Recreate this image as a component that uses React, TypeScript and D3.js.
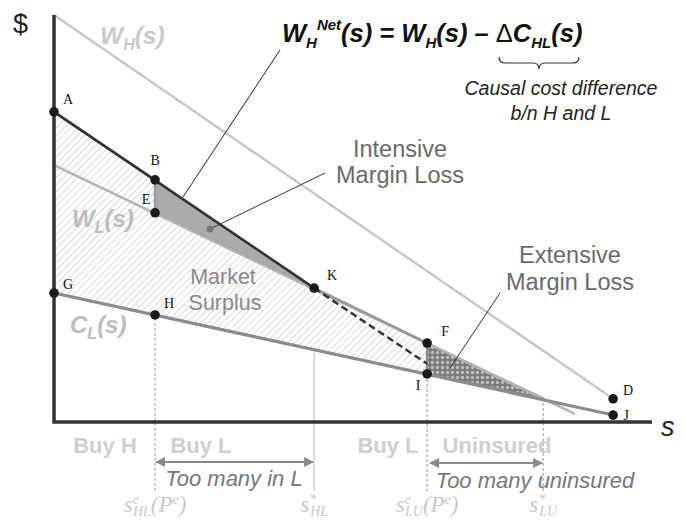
import React from "react";
import * as d3 from "d3";

// ---- data (s on horizontal axis 0..100, $ on vertical axis 0..100) ----
const pointLabels = ["A", "B", "E", "K", "G", "H", "F", "I", "D", "J"];
const pointS = [0, 16.9, 16.9, 43.5, 0, 16.9, 62.4, 62.4, 93.5, 93.5];
const pointV = [76.2, 59.5, 51.4, 32.9, 31.7, 26.3, 19.4, 11.8, 5.7, 1.7];

const wHLine: [number, number][] = [[0, 100], [93.5, 5.7]];
const wHNetLine: [number, number][] = [[0, 76.2], [43.5, 32.9]];
const wHNetDashed: [number, number][] = [[43.5, 32.9], [62.4, 14.3]];
const wLLine: [number, number][] = [[0, 63.1], [87.1, 2.0]];
const cLLine: [number, number][] = [[0, 31.7], [93.5, 1.7]];

const surplusRegion: [number, number][] = [
  [0, 76.2], [16.9, 59.5], [16.9, 51.4], [43.5, 32.9], [62.4, 19.4], [62.4, 11.8], [16.9, 26.3], [0, 31.7],
];
const intensiveRegion: [number, number][] = [[16.9, 59.5], [43.5, 32.9], [16.9, 51.4]];
const extensiveRegion: [number, number][] = [[62.4, 19.4], [81.8, 5.9], [62.4, 11.8]];

const guideS = [16.9, 43.5, 62.4, 81.8];
const guideV = [51.4, 32.9, 11.8, 5.9];
const guideDashed = [true, false, true, true];

const regionLabelsTop = ["Buy H", "Buy L", "Buy L", "Uninsured"];

export default function App() {
  const W = 686, H = 523;
  const x = d3.scaleLinear().domain([0, 100]).range([54, 652]);
  const y = d3.scaleLinear().domain([0, 100]).range([422, 15]);
  const line = d3.line<[number, number]>().x(d => x(d[0])).y(d => y(d[1]));
  const poly = (pts: [number, number][]) => line(pts) + "Z";
  const sans = "'Liberation Sans', Arial, sans-serif";
  const serif = "'Liberation Serif', 'Times New Roman', serif";

  const labelPos: Record<string, [number, number]> = {
    A: [14, -8], B: [0, -15], E: [-9, -9], K: [18, -8], G: [14, -4], H: [14, -7],
    F: [18, -7], I: [-9, 16], D: [15, -4], J: [13, 5],
  };

  const botY = 491;
  const labelBaseY = 512;

  return (
    <svg width={W} height={H} style={{ position: "absolute", left: 0, top: 0, background: "#fff" }}>
      <defs>
        <pattern id="hatch" width="5" height="5" patternUnits="userSpaceOnUse" patternTransform="rotate(45)">
          <rect width="5" height="5" fill="#fff" />
          <line x1="0" y1="0" x2="0" y2="5" stroke="#cdcdcd" strokeWidth="1.5" />
        </pattern>
        <pattern id="dots" width="5" height="5" patternUnits="userSpaceOnUse">
          <rect width="5" height="5" fill="#7a7a7a" />
          <circle cx="2.5" cy="2.5" r="1.7" fill="#bdbdbd" />
        </pattern>
        <marker id="arr" viewBox="0 0 10 10" refX="9" refY="5" markerWidth="5" markerHeight="5" orient="auto-start-reverse">
          <path d="M0,0 L10,5 L0,10 Z" fill="#8a8a8a" />
        </marker>
      </defs>

      {/* vertical guides */}
      {guideS.map((s, i) => (
        <line key={"g" + i} x1={x(s)} x2={x(s)} y1={y(guideV[i])} y2={botY}
          stroke={guideDashed[i] ? "#b5b5b5" : "#d0d0d0"} strokeWidth={1.4}
          strokeDasharray={guideDashed[i] ? "3,2" : undefined} />
      ))}

      {/* regions */}
      <path d={poly(surplusRegion)} fill="url(#hatch)" stroke="#999" strokeWidth={2.5} strokeLinejoin="round" />
      <path d={poly(intensiveRegion)} fill="#ababab" stroke="#9c9c9c" strokeWidth={2} strokeLinejoin="round" />
      <path d={poly(extensiveRegion)} fill="url(#dots)" stroke="#888" strokeWidth={1.5} strokeLinejoin="round" />

      {/* curves */}
      <path d={line(wHLine)!} fill="none" stroke="#c8c8c8" strokeWidth={2.5} />
      <path d={line(wLLine)!} fill="none" stroke="#b3b3b3" strokeWidth={2.5} />
      <path d={line([[43.5, 32.9], [62.4, 19.4]])!} fill="none" stroke="#999" strokeWidth={2.5} />
      <path d={line(cLLine)!} fill="none" stroke="#8c8c8c" strokeWidth={3} />
      <path d={line(wHNetLine)!} fill="none" stroke="#333" strokeWidth={2.5} />
      <path d={line(wHNetDashed)!} fill="none" stroke="#333" strokeWidth={2.5} strokeDasharray="7,4" />

      {/* axes */}
      <path d={`M${x(0)},${y(100)} V${y(0)} H${x(100)}`} fill="none" stroke="#333" strokeWidth={3.5} />
      <text x={13} y={33} fontFamily={sans} fontSize={27} fill="#222">$</text>
      <text x={661} y={436} fontFamily={sans} fontSize={27} fontStyle="italic" fill="#222">s</text>

      {/* leader lines */}
      <line x1={280} y1={50} x2={183} y2={197} stroke="#222" strokeWidth={1} />
      <line x1={325} y1={173} x2={210} y2={229} stroke="#333" strokeWidth={1} />
      <circle cx={210} cy={229} r={3.5} fill="#777" />
      <line x1={500} y1={293} x2={450} y2={368} stroke="#333" strokeWidth={1} />

      {/* points */}
      {pointLabels.map((lab, i) => (
        <g key={lab}>
          <circle cx={x(pointS[i])} cy={y(pointV[i])} r={4.8} fill="#1a1a1a" />
          <text x={x(pointS[i]) + labelPos[lab][0]} y={y(pointV[i]) + labelPos[lab][1]}
            fontFamily={serif} fontSize={14} textAnchor="middle" fill="#111">{lab}</text>
        </g>
      ))}

      {/* curve labels */}
      <text x={100} y={44} fontFamily={sans} fontSize={24.5} fontWeight="bold" fontStyle="italic" fill="#cacaca">
        W<tspan fontSize={16} dy={6}>H</tspan><tspan dy={-6}>(s)</tspan>
      </text>
      <text x={72} y={227} fontFamily={sans} fontSize={24} fontWeight="bold" fontStyle="italic" fill="#bdbdbd">
        W<tspan fontSize={16} dy={6}>L</tspan><tspan dy={-6}>(s)</tspan>
      </text>
      <text x={70} y={333} fontFamily={sans} fontSize={24} fontWeight="bold" fontStyle="italic" fill="#bdbdbd">
        C<tspan fontSize={16} dy={6}>L</tspan><tspan dy={-6}>(s)</tspan>
      </text>

      {/* formula */}
      <text x={282} y={42} fontFamily={sans} fontSize={25.5} fontWeight="bold" fontStyle="italic" fill="#111">
        W<tspan fontSize={15} dy={6}>H</tspan><tspan fontSize={15} dy={-18}>Net</tspan>
        <tspan dy={12}>(s) = W</tspan><tspan fontSize={15} dy={6}>H</tspan><tspan dy={-6}>(s) – </tspan>
        <tspan fontWeight="normal" fontStyle="normal">Δ</tspan><tspan>C</tspan>
        <tspan fontSize={15} dy={6}>HL</tspan><tspan dy={-6}>(s)</tspan>
      </text>
      <path d="M499,57 q0,6 6,6 H533 q6,0 6,6 q0,-6 6,-6 H573 q6,0 6,-6" fill="none" stroke="#333" strokeWidth={1.2} />
      <text x={561} y={95} fontFamily={sans} fontSize={19.5} fontStyle="italic" fill="#222" textAnchor="middle">Causal cost difference</text>
      <text x={561} y={120} fontFamily={sans} fontSize={19.5} fontStyle="italic" fill="#222" textAnchor="middle">b/n H and L</text>

      {/* region annotations */}
      <text x={400} y={157} fontFamily={sans} fontSize={23.5} fill="#6a6a6a" textAnchor="middle">Intensive</text>
      <text x={400} y={183} fontFamily={sans} fontSize={23.5} fill="#6a6a6a" textAnchor="middle">Margin Loss</text>
      <text x={570} y={263} fontFamily={sans} fontSize={23.5} fill="#6a6a6a" textAnchor="middle">Extensive</text>
      <text x={570} y={290} fontFamily={sans} fontSize={23.5} fill="#6a6a6a" textAnchor="middle">Margin Loss</text>
      <text x={223} y={284} fontFamily={sans} fontSize={21.5} fill="#8a8a8a" textAnchor="middle">Market</text>
      <text x={225} y={310} fontFamily={sans} fontSize={21.5} fill="#8a8a8a" textAnchor="middle">Surplus</text>

      {/* bottom labels */}
      {regionLabelsTop.map((t, i) => {
        const xs = [105, 201, 388, 497];
        return (
          <text key={"r" + i} x={xs[i]} y={453} fontFamily={sans} fontSize={22} fontWeight="bold" fill="#cfcfcf" textAnchor="middle">{t}</text>
        );
      })}
      <line x1={x(guideS[0]) + 1} x2={x(guideS[1]) - 1} y1={462} y2={462} stroke="#8a8a8a" strokeWidth={2}
        markerStart="url(#arr)" markerEnd="url(#arr)" />
      <line x1={x(guideS[2]) + 3} x2={x(guideS[3]) - 1} y1={463} y2={463} stroke="#8a8a8a" strokeWidth={2}
        markerStart="url(#arr)" markerEnd="url(#arr)" />
      <text x={234} y={486} fontFamily={sans} fontSize={22} fontStyle="italic" fill="#777" textAnchor="middle">Too many in L</text>
      <text x={535} y={488} fontFamily={sans} fontSize={22} fontStyle="italic" fill="#777" textAnchor="middle">Too many uninsured</text>

      {/* threshold labels */}
      <text x={x(guideS[0])} y={labelBaseY} fontFamily={serif} fontSize={23} fontStyle="italic" fill="#c8c8c8" textAnchor="middle">
        s<tspan fontSize={14} dy={-8}>e</tspan><tspan fontSize={14} dx={-6} dy={12}>HL</tspan><tspan dy={-4}>(P</tspan><tspan fontSize={14} dy={-8}>e</tspan><tspan dy={8}>)</tspan>
      </text>
      <text x={x(guideS[1])} y={labelBaseY} fontFamily={serif} fontSize={23} fontStyle="italic" fill="#c8c8c8" textAnchor="middle">
        s<tspan fontSize={14} dy={-8}>*</tspan><tspan fontSize={14} dx={-6} dy={12}>HL</tspan>
      </text>
      <text x={x(guideS[2])} y={labelBaseY} fontFamily={serif} fontSize={23} fontStyle="italic" fill="#c8c8c8" textAnchor="middle">
        s<tspan fontSize={14} dy={-8}>e</tspan><tspan fontSize={14} dx={-6} dy={12}>LU</tspan><tspan dy={-4}>(P</tspan><tspan fontSize={14} dy={-8}>e</tspan><tspan dy={8}>)</tspan>
      </text>
      <text x={x(guideS[3])} y={labelBaseY} fontFamily={serif} fontSize={23} fontStyle="italic" fill="#c8c8c8" textAnchor="middle">
        s<tspan fontSize={14} dy={-8}>*</tspan><tspan fontSize={14} dx={-6} dy={12}>LU</tspan>
      </text>
    </svg>
  );
}
